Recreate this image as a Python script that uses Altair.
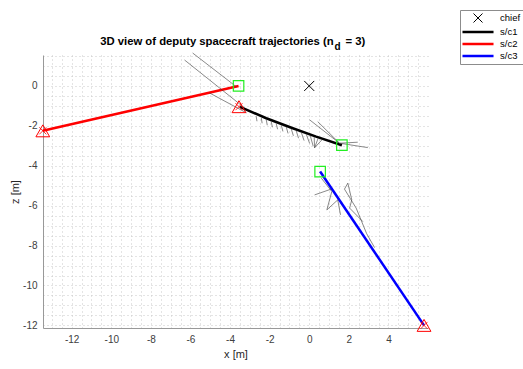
import altair as alt
import pandas as pd

# ---------------- text ----------------
title_main = "3D view of deputy spacecraft trajectories (n"
title_sub = "d"
title_end = "= 3)"
x_title = "x [m]"
z_title = "z [m]"

# ---------------- series ----------------
names = ["chief", "s/c1", "s/c2", "s/c3"]
name_colors = ["#000000", "#000000", "#ff0000", "#0000ff"]
name_widths = [1.0, 2.5, 2.5, 2.5]
line_path = "M-3.45,0L3.45,0"
x_path = "M-1,-1L1,1M1,-1L-1,1"
name_shapes = [x_path, line_path, line_path, line_path]

chief_x = [0.0]
chief_z = [0.0]

sc1_x = [1.65, 0.35, -0.83, -2.17, -3.50]
sc1_z = [-2.97, -2.54, -2.12, -1.62, -1.05]
sc2_x = [-3.57, -13.46]
sc2_z = [0.0, -2.25]
sc3_x = [0.55, 5.80]
sc3_z = [-4.29, -12.0]

start_x = [1.65, -3.57, 0.55]
start_z = [-2.97, 0.0, -4.29]
end_x = [-3.55, -13.46, 5.80]
end_z = [-1.04, -2.25, -12.0]

# thin vector arrows (start x, start z, end x, end z)
q_x1 = [-5.89, -6.30, -5.04,
        -2.68, -2.42, -2.17, -1.92, -1.67, -1.41, -1.16, -0.91, -0.66, -0.40, -0.15, 0.05, 0.25, 0.45, 0.65,
        0.02, 0.43, 1.53, 1.53,
        0.27, 0.61, 1.14, 0.89, 1.44,
        1.95, 1.95, 1.78, 2.15, 2.04, 2.37, 2.90]
q_z1 = [1.65, 1.30, -0.35,
        -1.52, -1.61, -1.70, -1.79, -1.88, -1.97, -2.06, -2.15, -2.24, -2.33, -2.42, -2.49, -2.56, -2.62, -2.69,
        -1.70, -1.79, -2.87, -2.87,
        -5.46, -4.62, -5.29, -6.21, -5.71,
        -4.87, -4.87, -5.17, -5.71, -6.12, -6.12, -7.40]
q_x2 = [-3.67, -3.27, -3.17,
        -2.64, -2.38, -2.12, -1.86, -1.60, -1.33, -1.07, -0.80, -0.54, -0.26, 0.02, 0.20, 0.27, 0.27, 0.27,
        1.53, 1.53, 2.45, 2.96,
        1.11, 1.14, 0.89, 1.44, 1.58,
        1.78, 2.15, 2.37, 2.04, 2.71, 2.90, 3.30]
q_z2 = [-0.05, -1.10, -1.35,
        -1.77, -1.87, -1.97, -2.07, -2.17, -2.28, -2.38, -2.50, -2.62, -2.74, -2.88, -3.02, -3.10, -3.10, -3.10,
        -2.87, -2.87, -2.82, -3.09,
        -5.17, -5.29, -6.21, -5.71, -6.46,
        -5.17, -5.71, -6.12, -6.12, -6.80, -7.40, -8.10]

# grid / tick values
x_grid = [v / 2 for v in range(-26, 12)]
z_grid = [v / 2 for v in range(-24, 4)]

# ---------------- tables ----------------
traj = pd.DataFrame({
    "name": ["s/c1"] * len(sc1_x) + ["s/c2"] * len(sc2_x) + ["s/c3"] * len(sc3_x),
    "x": sc1_x + sc2_x + sc3_x,
    "z": sc1_z + sc2_z + sc3_z,
    "i": list(range(len(sc1_x))) + list(range(len(sc2_x))) + list(range(len(sc3_x))),
})
chief = pd.DataFrame({"name": ["chief"], "x": chief_x, "z": chief_z})
starts = pd.DataFrame({"x": start_x, "z": start_z})
ends = pd.DataFrame({"x": end_x, "z": end_z})
quiv = pd.DataFrame({"x1": q_x1, "z1": q_z1, "x2": q_x2, "z2": q_z2})

FONT = "Liberation Sans"

x_axis = alt.Axis(title=x_title, values=x_grid,
                  labelExpr="datum.value % 2 === 0 ? '' + datum.value : ''",
                  grid=True, gridDash=[1, 3], gridColor="#c8c8c8", gridWidth=1,
                  ticks=False, labelPadding=6, labelFlush=False, labelOverlap=False,
                  domainColor="#999999", titlePadding=4)
z_axis = alt.Axis(title=z_title, values=z_grid,
                  labelExpr="datum.value % 2 === 0 ? '' + datum.value : ''",
                  grid=True, gridDash=[1, 3], gridColor="#c8c8c8", gridWidth=1,
                  ticks=False, labelPadding=6, labelFlush=False, labelOverlap=False,
                  domainColor="#999999", titlePadding=2)

xs = alt.Scale(domain=[-13.45, 6.0], nice=False, zero=False)
zs = alt.Scale(domain=[-12.13, 1.55], nice=False, zero=False)

legend = alt.Legend(title=None, orient="none", legendX=417, legendY=-45,
                    padding=3, strokeColor="#8c8c8c", fillColor="white",
                    labelFont=FONT, labelFontSize=9.5, labelColor="#000000",
                    symbolSize=81, symbolOffset=9, labelOffset=16, rowPadding=1)

color_enc = alt.Color("name:N", scale=alt.Scale(domain=names, range=name_colors), legend=legend)
sw_enc = alt.StrokeWidth("name:N", scale=alt.Scale(domain=names, range=name_widths, type="ordinal"), legend=legend)
shape_enc = alt.Shape("name:N", scale=alt.Scale(domain=names, range=name_shapes), legend=legend)

lines = alt.Chart(traj).mark_line().encode(
    x=alt.X("x:Q", scale=xs, axis=x_axis),
    y=alt.Y("z:Q", scale=zs, axis=z_axis),
    color=color_enc,
    strokeWidth=sw_enc,
    order="i:Q",
)

arrows = alt.Chart(quiv).mark_rule(color="#3a3a3a", strokeWidth=0.6).encode(
    x=alt.X("x1:Q", scale=xs, axis=x_axis),
    y=alt.Y("z1:Q", scale=zs, axis=z_axis),
    x2="x2:Q",
    y2="z2:Q",
)

chief_pt = alt.Chart(chief).mark_point(filled=False, size=100, opacity=1).encode(
    x=alt.X("x:Q", scale=xs, axis=x_axis),
    y=alt.Y("z:Q", scale=zs, axis=z_axis),
    color=color_enc,
    shape=shape_enc,
    strokeWidth=sw_enc,
)

squares = alt.Chart(starts).mark_point(shape="square", filled=False, size=110,
                                       color="#22ee22", strokeWidth=1.2, opacity=1).encode(
    x=alt.X("x:Q", scale=xs, axis=x_axis),
    y=alt.Y("z:Q", scale=zs, axis=z_axis),
)

tris = alt.Chart(ends).mark_point(shape="triangle-up", filled=False, size=190,
                                  color="#ff0000", strokeWidth=1, opacity=1).encode(
    x=alt.X("x:Q", scale=xs, axis=x_axis),
    y=alt.Y("z:Q", scale=zs, axis=z_axis),
)
tris_x = alt.Chart(ends).mark_point(shape=x_path, filled=False, size=50,
                                    color="#ff0000", strokeWidth=0.8, opacity=1).encode(
    x=alt.X("x:Q", scale=xs, axis=x_axis),
    y=alt.Y("z:Q", scale=zs, axis=z_axis),
)

t1 = alt.Chart(pd.DataFrame({"t": [title_main]})).mark_text(
    font=FONT, fontSize=11.3, fontWeight="bold", align="right", baseline="alphabetic", color="#000"
).encode(x=alt.value(290.7), y=alt.value(-10), text="t:N")
t2 = alt.Chart(pd.DataFrame({"t": [title_sub]})).mark_text(
    font=FONT, fontSize=10, fontWeight="bold", align="left", baseline="alphabetic", color="#000"
).encode(x=alt.value(291.5), y=alt.value(-5.5), text="t:N")
t3 = alt.Chart(pd.DataFrame({"t": [title_end]})).mark_text(
    font=FONT, fontSize=11.3, fontWeight="bold", align="left", baseline="alphabetic", color="#000"
).encode(x=alt.value(302.5), y=alt.value(-10), text="t:N")

chart = alt.layer(lines, arrows, chief_pt, squares, tris, tris_x, t1, t2, t3).properties(
    width=385, height=273,
    autosize=alt.AutoSizeParams(type="none"),
    padding={"left": 43, "top": 55, "right": 95, "bottom": 41},
    background="white",
).configure_view(stroke=None).configure_axis(
    labelFont=FONT, labelFontSize=10, labelColor="#404040",
    titleFont=FONT, titleFontSize=11, titleFontWeight="normal", titleColor="#262626",
    domainWidth=1,
)

chart.save("out.html", embed_options={"renderer": "svg", "actions": False})
